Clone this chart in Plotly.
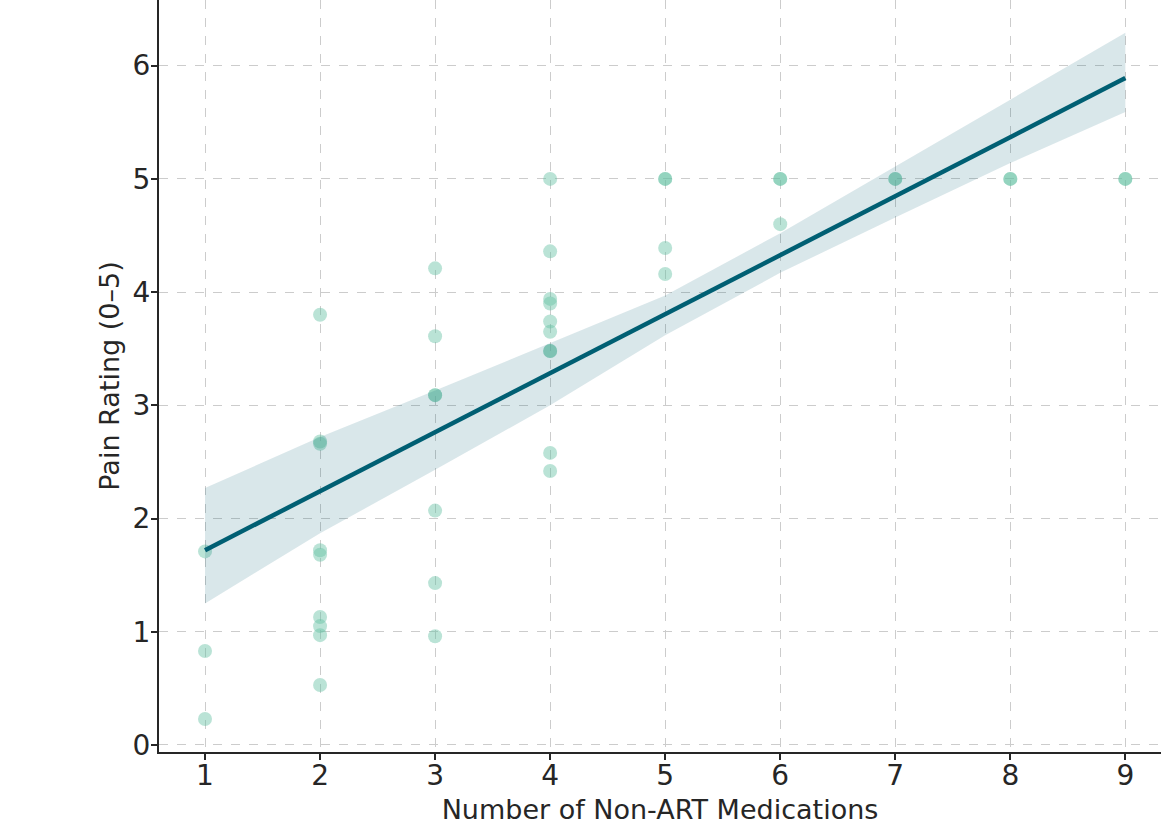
import plotly.graph_objects as go

# Scatter data: number of non-ART medications vs pain rating
meds = [1, 1, 1,
        2, 2, 2, 2, 2, 2, 2, 2, 2,
        3, 3, 3, 3, 3, 3, 3,
        4, 4, 4, 4, 4, 4, 4, 4, 4, 4,
        5, 5, 5, 5,
        6, 6, 6,
        7, 7,
        8, 8,
        9, 9]
pain = [1.71, 0.83, 0.23,
        3.80, 2.68, 2.66, 1.72, 1.68, 1.13, 1.05, 0.97, 0.53,
        4.21, 3.61, 3.09, 3.09, 2.07, 1.43, 0.96,
        5.00, 4.36, 3.94, 3.90, 3.74, 3.65, 3.48, 3.48, 2.58, 2.42,
        5.00, 5.00, 4.39, 4.16,
        5.00, 5.00, 4.60,
        5.00, 5.00,
        5.00, 5.00,
        5.00, 5.00]

# Regression fit and confidence band
fit_x = [1, 2, 3, 4, 5, 6, 7, 8, 9]
fit_y = [1.72, 2.24, 2.76, 3.28, 3.80, 4.33, 4.85, 5.37, 5.89]
ci_upper = [2.27, 2.72, 3.13, 3.55, 3.97, 4.52, 5.11, 5.70, 6.29]
ci_lower = [1.25, 1.87, 2.43, 3.00, 3.62, 4.17, 4.66, 5.14, 5.59]

x_ticks = [1, 2, 3, 4, 5, 6, 7, 8, 9]
y_ticks = [0, 1, 2, 3, 4, 5, 6]

LINE = "#005f73"
FONT = "DejaVu Sans"
TXT = "#262626"

fig = go.Figure()
fig.add_trace(go.Scatter(
    x=meds, y=pain, mode="markers",
    marker=dict(size=14, color="rgba(102,194,165,0.45)", line=dict(width=0)),
    showlegend=False, hoverinfo="x+y"))
fig.add_trace(go.Scatter(
    x=fit_x + fit_x[::-1], y=ci_upper + ci_lower[::-1],
    fill="toself", fillcolor="rgba(0,95,115,0.15)",
    line=dict(width=0), mode="lines", showlegend=False, hoverinfo="skip"))
fig.add_trace(go.Scatter(
    x=fit_x, y=fit_y, mode="lines",
    line=dict(color=LINE, width=4.5), showlegend=False))

axis_common = dict(
    showline=True, linecolor=TXT, linewidth=2,
    ticks="outside", ticklen=6, tickwidth=1.5, tickcolor=TXT,
    showgrid=True, gridcolor="#cccccc", gridwidth=1, griddash="dash",
    zeroline=False, tickfont=dict(family=FONT, size=28, color=TXT),
    mirror=False)

fig.update_layout(
    width=1161, height=825,
    margin=dict(l=159, r=0, t=0, b=73),
    paper_bgcolor="white", plot_bgcolor="white",
    font=dict(family=FONT, color=TXT),
    xaxis=dict(range=[0.6, 9.31], tickvals=x_ticks, ticklabelstandoff=-9,
               title=dict(text="Number of Non-ART Medications",
                          font=dict(family=FONT, size=27, color=TXT), standoff=12),
               **axis_common),
    yaxis=dict(range=[-0.062, 6.58], tickvals=y_ticks, ticklabelstandoff=-5,
               title=dict(text="Pain Rating (0–5)",
                          font=dict(family=FONT, size=27, color=TXT), standoff=5),
               **axis_common),
)

fig.write_html("out.html")
